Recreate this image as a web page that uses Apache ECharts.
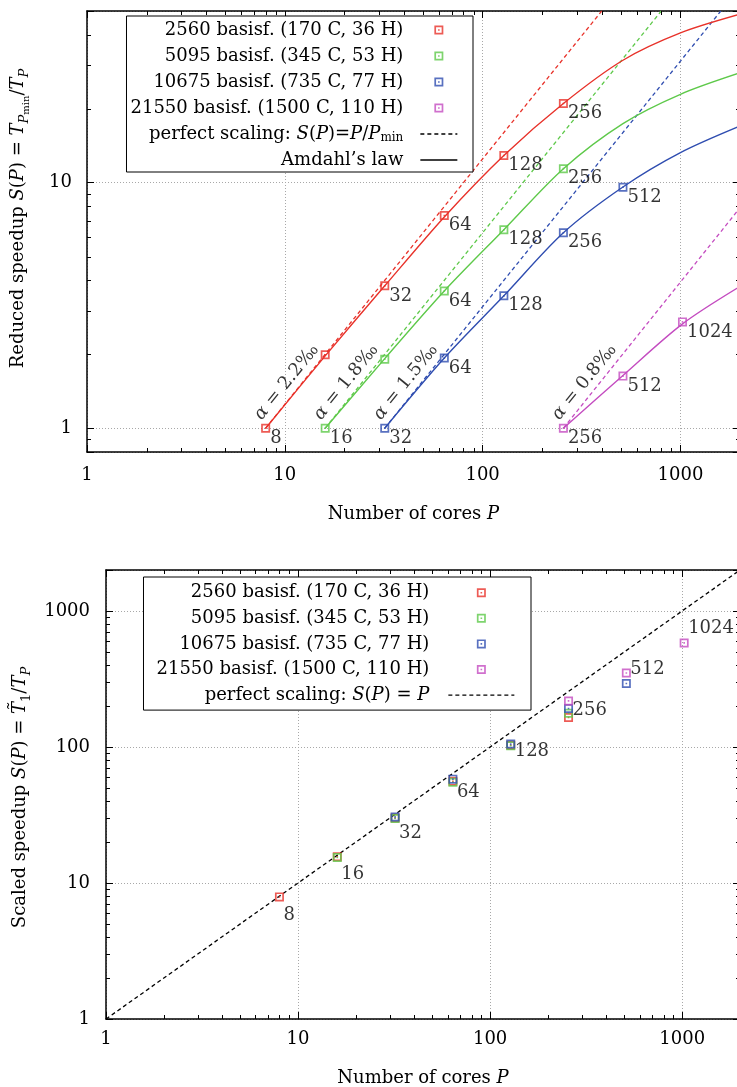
<!DOCTYPE html>
<html><head><meta charset="utf-8">
<script src="https://cdn.jsdelivr.net/npm/echarts@6.0.0/dist/echarts.min.js"></script>
<style>html,body{margin:0;padding:0;background:#fff;}#chart{width:737px;height:1087px;}</style>
</head><body><div id="chart"></div>
<script>
// ---------------- data ----------------
const datasetNames = ['2560 basisf. (170 C, 36 H)', '5095 basisf. (345 C, 53 H)', '10675 basisf. (735 C, 77 H)', '21550 basisf. (1500 C, 110 H)'];
const datasetColors = ['#e8322a', '#5ec94a', '#2f4db0', '#c44cc0'];
const alphaTexts = ['2.2‰', '1.8‰', '1.5‰', '0.8‰'];

// top chart: reduced speedup, measured points [P, S]
const reducedRed = [[8, 1], [16, 1.99], [32, 3.8], [64, 7.35], [128, 12.9], [256, 21.0]];
const reducedGreen = [[16, 1], [32, 1.91], [64, 3.62], [128, 6.43], [256, 11.4]];
const reducedBlue = [[32, 1], [64, 1.93], [128, 3.46], [256, 6.25], [512, 9.58]];
const reducedMagenta = [[256, 1], [512, 1.63], [1024, 2.71]];
const reducedUnlabeledP = [[16], [32], [], []];

// top chart: Amdahl's law curves
const amdahlRed = [[8, 1], [16, 1.97], [32, 3.8], [64, 7.25], [128, 12.9], [256, 21.0], [512, 31.5], [1000, 40.7], [2000, 48.5]];
const amdahlGreen = [[16, 1], [32, 1.92], [64, 3.62], [128, 6.43], [256, 11.4], [512, 17.4], [1000, 22.9], [2000, 28.0]];
const amdahlBlue = [[32, 1], [64, 1.93], [128, 3.46], [256, 6.25], [512, 9.6], [1000, 13.25], [2000, 17.0]];
const amdahlMagenta = [[256, 1], [512, 1.64], [1024, 2.66], [2000, 3.78]];

// top chart: perfect scaling lines
const perfectRed = [[8, 1], [400, 50]];
const perfectGreen = [[16, 1], [800, 50]];
const perfectBlue = [[32, 1], [1600, 50]];
const perfectMagenta = [[256, 1], [2000, 7.9]];

// bottom chart: scaled speedup [P, S]
const scaledRed = [[8, 7.9], [16, 15.6], [32, 30.0], [64, 56], [128, 103], [256, 164.5]];
const scaledGreen = [[16, 15.4], [32, 29.8], [64, 55], [128, 102], [256, 177]];
const scaledBlue = [[32, 30.6], [64, 58], [128, 105], [256, 191.6], [512, 292.6]];
const scaledMagenta = [[256, 218], [512, 350], [1024, 582]];
const scaledPerfect = [[1, 1], [2000, 2000]];
const scaledLabelP = [8, 16, 32, 64, 128, 256, 512, 1024];

// axis ranges and minor ticks
const xRange = [1, 2000];
const yTopRange = [0.8, 50];
const yBottomRange = [1, 2000];
const minorTickX = [2, 3, 4, 5, 6, 7, 8, 9, 20, 30, 40, 50, 60, 70, 80, 90, 200, 300, 400, 500, 600, 700, 800, 900];
const minorTickYTop = [0.9, 2, 3, 4, 5, 6, 7, 8, 9, 20, 30, 40];
const minorTickYBottom = [2, 3, 4, 5, 6, 7, 8, 9, 20, 30, 40, 50, 60, 70, 80, 90, 200, 300, 400, 500, 600, 700, 800, 900];

const PERFECT_TOP = 'perfect scaling: S(P)=P/Pmin';
const AMDAHL = 'Amdahl’s law';
const PERFECT_BOTTOM = 'perfect scaling: S(P) = P';

// ---------------- styling ----------------
const FONT = 'DejaVu Serif';
const FS = 18;
const SQUARE = 'path://M0 0H10V10H0Z M1.9 1.9V8.1H8.1V1.9Z M4.1 4.1H5.9V5.9H4.1Z';

const nameRich = {
  i: {fontFamily: FONT, fontStyle: 'italic', fontSize: FS, lineHeight: 26, color: '#000'},
  si: {fontFamily: FONT, fontStyle: 'italic', fontSize: 13, lineHeight: 13, verticalAlign: 'bottom', color: '#000'},
  s: {fontFamily: FONT, fontSize: 13, lineHeight: 13, verticalAlign: 'bottom', color: '#000'},
  ss: {fontFamily: FONT, fontSize: 10, lineHeight: 9, verticalAlign: 'bottom', color: '#000'}
};
const legendRich = {
  i: {fontFamily: FONT, fontStyle: 'italic', fontSize: FS, lineHeight: 20, color: '#000'},
  s: {fontFamily: FONT, fontSize: 12, lineHeight: 12, verticalAlign: 'bottom', color: '#000'}
};
const legendDisplay = {};
legendDisplay[PERFECT_TOP] = 'perfect scaling: {i|S}({i|P})={i|P}/{i|P}{s|min}';
legendDisplay[PERFECT_BOTTOM] = 'perfect scaling: {i|S}({i|P}) = {i|P}';

function fmtPow(v) {
  const l = Math.log10(v);
  const r = Math.round(l);
  return Math.abs(l - r) < 1e-6 ? String(Math.round(Math.pow(10, r))) : '';
}

function mainAxis(gridIndex, position, range, margin, name, nameGap, namePadding) {
  return {
    type: 'log', logBase: 10, gridIndex: gridIndex, position: position, min: range[0], max: range[1],
    axisLine: {show: true, onZero: false, lineStyle: {color: '#000', width: 1.5}},
    axisTick: {show: true, inside: true, length: 7, lineStyle: {color: '#000', width: 1}},
    minorTick: {show: false},
    axisLabel: {show: true, margin: margin, color: '#000', fontFamily: FONT, fontSize: FS, formatter: fmtPow, hideOverlap: false},
    splitLine: {show: true, lineStyle: {color: '#a8a8a8', width: 1, type: [1, 2]}},
    name: name, nameLocation: 'middle', nameGap: nameGap,
    nameTextStyle: {color: '#000', fontFamily: FONT, fontSize: FS, lineHeight: 26, padding: namePadding, rich: nameRich},
    silent: true
  };
}
function mirrorAxis(gridIndex, position, range) {
  return {
    type: 'log', logBase: 10, gridIndex: gridIndex, position: position, min: range[0], max: range[1],
    axisLine: {show: true, onZero: false, lineStyle: {color: '#000', width: 1.5}},
    axisTick: {show: true, inside: true, length: 7, lineStyle: {color: '#000', width: 1}},
    minorTick: {show: false},
    axisLabel: {show: false},
    splitLine: {show: false},
    silent: true
  };
}

function minorTickSeries(xi, yi, xTicks, yTicks, yRef, xRef) {
  const data = xTicks.map(v => [v, yRef, 0]).concat(yTicks.map(v => [xRef, v, 1]));
  return {
    type: 'custom', xAxisIndex: xi, yAxisIndex: yi, silent: true, z: 20, clip: false,
    dimensions: ['x', 'y', 'k'], encode: {x: 0, y: 1},
    data: data,
    renderItem: function (params, api) {
      const cs = params.coordSys;
      const pt = api.coord([api.value(0), api.value(1)]);
      const st = {stroke: '#000', lineWidth: 1};
      const L = 4;
      if (api.value(2) === 0) {
        const x = Math.round(pt[0]) + 0.5;
        return {type: 'group', children: [
          {type: 'line', shape: {x1: x, y1: cs.y + cs.height, x2: x, y2: cs.y + cs.height - L}, style: st},
          {type: 'line', shape: {x1: x, y1: cs.y, x2: x, y2: cs.y + L}, style: st}
        ]};
      }
      const y = Math.round(pt[1]) + 0.5;
      return {type: 'group', children: [
        {type: 'line', shape: {x1: cs.x, y1: y, x2: cs.x + L, y2: y}, style: st},
        {type: 'line', shape: {x1: cs.x + cs.width, y1: y, x2: cs.x + cs.width - L, y2: y}, style: st}
      ]};
    }
  };
}

const reducedSets = [reducedRed, reducedGreen, reducedBlue, reducedMagenta];
const amdahlSets = [amdahlRed, amdahlGreen, amdahlBlue, amdahlMagenta];
const perfectSets = [perfectRed, perfectGreen, perfectBlue, perfectMagenta];
const scaledSets = [scaledRed, scaledGreen, scaledBlue, scaledMagenta];

const series = [];
// top chart lines
perfectSets.forEach((d, k) => series.push({
  type: 'line', name: 'perfect-' + k, xAxisIndex: 0, yAxisIndex: 0, data: d, symbol: 'none', showSymbol: false,
  lineStyle: {color: datasetColors[k], width: 1.3, type: [4, 3]}, z: 2, silent: true
}));
amdahlSets.forEach((d, k) => series.push({
  type: 'line', name: 'amdahl-' + k, xAxisIndex: 0, yAxisIndex: 0, data: d, symbol: 'none', showSymbol: false,
  smooth: 0.3,
  lineStyle: {color: datasetColors[k], width: 1.4}, z: 3, silent: true
}));
// top chart markers
reducedSets.forEach((d, k) => series.push({
  type: 'scatter', name: datasetNames[k], xAxisIndex: 0, yAxisIndex: 0,
  symbol: SQUARE, symbolSize: 9, symbolKeepAspect: true, itemStyle: {color: datasetColors[k]}, z: 5, silent: true,
  data: d.map(p => ({value: p, label: {show: reducedUnlabeledP[k].indexOf(p[0]) < 0}})),
  label: {show: true, position: 'right', distance: 0, offset: [0, 10], color: '#000', fontFamily: FONT, fontSize: FS,
    formatter: p => String(p.value[0])}
}));
// alpha annotations (offset is in the rotated label frame)
reducedSets.forEach((d, k) => series.push({
  type: 'scatter', name: 'alpha-' + k, xAxisIndex: 0, yAxisIndex: 0, symbolSize: 0, z: 6, silent: true,
  data: [d[0]],
  label: {show: true, position: 'inside', offset: [49, -12.6], rotate: 51, color: '#000', fontFamily: FONT, fontSize: FS,
    formatter: '{i|α} = ' + alphaTexts[k], rich: {i: {fontFamily: FONT, fontStyle: 'italic', fontSize: FS, color: '#000'}}}
}));
// legend-only entries (top)
series.push({type: 'line', name: PERFECT_TOP, xAxisIndex: 0, yAxisIndex: 0, data: [], symbol: 'none',
  lineStyle: {color: '#000', width: 1.3, type: [4, 3]}, itemStyle: {color: '#000'}});
series.push({type: 'line', name: AMDAHL, xAxisIndex: 0, yAxisIndex: 0, data: [], symbol: 'none',
  lineStyle: {color: '#000', width: 1.3}, itemStyle: {color: '#000'}});
series.push(minorTickSeries(0, 0, minorTickX, minorTickYTop, 1, 10));

// bottom chart
series.push({type: 'line', name: PERFECT_BOTTOM, xAxisIndex: 2, yAxisIndex: 2, data: scaledPerfect, symbol: 'none', showSymbol: false,
  lineStyle: {color: '#000', width: 1.3, type: [4, 3]}, itemStyle: {color: '#000'}, z: 2, silent: true});
scaledSets.forEach((d, k) => series.push({
  type: 'scatter', name: datasetNames[k], xAxisIndex: 2, yAxisIndex: 2,
  symbol: SQUARE, symbolSize: 9, symbolKeepAspect: true, itemStyle: {color: datasetColors[k]}, z: 5, silent: true,
  data: d
}));
series.push({
  type: 'scatter', name: 'scaled-labels', xAxisIndex: 2, yAxisIndex: 2, symbolSize: 0, z: 6, silent: true,
  data: scaledLabelP.map(p => [p, p]),
  label: {show: true, position: 'right', distance: 0, offset: [4, 19], color: '#000', fontFamily: FONT, fontSize: FS,
    formatter: p => String(p.value[0])}
});
series.push(minorTickSeries(2, 2, minorTickX, minorTickYBottom, 10, 10));

function legendCfg(names, right, top, itemWidth, itemGap, padding, textPad) {
  return {
    show: true, orient: 'vertical', align: 'right', right: right, top: top,
    itemWidth: itemWidth, itemHeight: 9, itemGap: itemGap, padding: padding,
    backgroundColor: '#fff', borderColor: '#000', borderWidth: 1, borderRadius: 0,
    selectedMode: false, z: 10,
    textStyle: {color: '#000', fontFamily: FONT, fontSize: FS, lineHeight: 20, padding: [0, textPad, 0, 0], rich: legendRich},
    formatter: name => legendDisplay[name] || name,
    data: names.map(n => (n === PERFECT_TOP || n === AMDAHL || n === PERFECT_BOTTOM)
      ? {name: n, itemStyle: {opacity: 0}, lineStyle: n === AMDAHL ? {color: '#000', width: 1.3, type: 'solid'} : {color: '#000', width: 1.3, type: [4, 3]}}
      : {name: n})
  };
}

const option = {
  animation: false,
  backgroundColor: '#fff',
  grid: [
    {left: 87, top: 11, width: 653, height: 441, containLabel: false, outerBoundsMode: 'none'},
    {left: 106, top: 570, width: 634, height: 449, containLabel: false, outerBoundsMode: 'none'}
  ],
  xAxis: [
    mainAxis(0, 'bottom', xRange, 14, 'Number of cores {i|P}', 49, [0, 0, 0, 0]),
    mirrorAxis(0, 'top', xRange),
    mainAxis(1, 'bottom', xRange, 11, 'Number of cores {i|P}', 46, [0, 0, 0, 0]),
    mirrorAxis(1, 'top', xRange)
  ],
  yAxis: [
    mainAxis(0, 'left', yTopRange, 15, 'Reduced speedup {i|S}({i|P}) = {i|T}{si|P}{ss|min}/{i|T}{si|P}', 56, [0, 0, 0, 26]),
    mirrorAxis(0, 'right', yTopRange),
    mainAxis(1, 'left', yBottomRange, 16, 'Scaled speedup {i|S}({i|P}) = {i|T\u0303}{s|1}/{i|T}{si|P}', 73, [0, 6, 0, 0]),
    mirrorAxis(1, 'right', yBottomRange)
  ],
  legend: [
    legendCfg(datasetNames.concat([PERFECT_TOP, AMDAHL]), 264, 16, 37, 6, [4, 15, 2, 4], 12),
    legendCfg(datasetNames.concat([PERFECT_BOTTOM]), 206, 577, 66, 5.6, [5.7, 16, 5, 13], 14)
  ],
  series: series
};

const chart = echarts.init(document.getElementById('chart'), null, {renderer: 'canvas'});
chart.setOption(option);
</script>
</body></html>
